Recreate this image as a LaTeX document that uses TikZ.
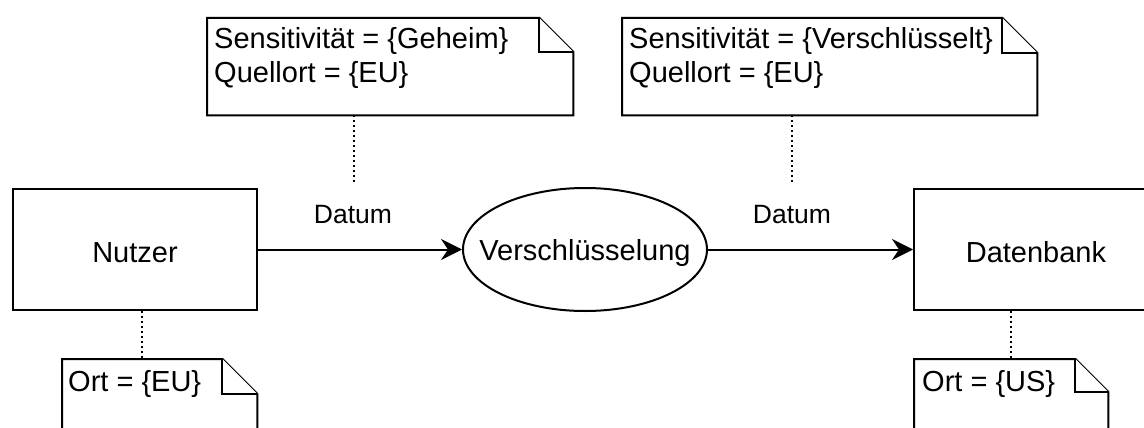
\documentclass[tikz,border=0pt]{standalone}
\usepackage{fontspec}
\setmainfont{Liberation Sans}
\usetikzlibrary{shapes.geometric,arrows.meta}

% outline of a note with a folded top-right corner
\newcommand\drawnote[2]{%
  \draw[noteline] (#1.north west) -- ([xshift=-#2]#1.north east)
    -- ([yshift=-#2]#1.north east) -- (#1.south east) -- (#1.south west) -- cycle;
  \draw[noteline] ([xshift=-#2]#1.north east) |- ([yshift=-#2]#1.north east);}

\begin{document}
\begin{tikzpicture}[x=1pt,y=-1pt,
  mainfont/.style={font=\fontsize{29}{34}\selectfont},
  block/.style={draw, line width=2pt, fill=white, minimum width=244pt,
    minimum height=121pt, inner sep=0pt},
  process/.style={ellipse, draw, line width=2pt, fill=white,
    minimum width=244pt, minimum height=123pt, inner sep=0pt},
  boxtext/.style={mainfont, inner sep=0pt, text height=26pt, text depth=0pt},
  notearea/.style 2 args={anchor=north west, inner sep=0pt,
    minimum width=#1, minimum height=#2},
  noteline/.style={line width=2pt, fill=white, line join=miter},
  notetext/.style={mainfont, anchor=north west, inner sep=0pt, align=left},
  flowlabel/.style={font=\fontsize{26.5}{30}\selectfont, inner sep=0pt},
  flow/.style={line width=2pt, -{Stealth[length=21pt,width=21pt,inset=7pt]}},
  link/.style={line width=1.6pt, dash pattern=on 1.6pt off 3.4pt}]

\useasboundingbox (0,0) rectangle (1144,428);
\clip (0,0) rectangle (1144,428);

% main elements
\node[block] (nutzer) at (135,249.5) {};
\node[boxtext] (nutzertext) at (nutzer.center) {Nutzer};
\node[process] (crypt) at (585,249.5) {};
\node[boxtext, text depth=4pt] (crypttext) at (crypt.center) {Verschlüsselung};
\node[block] (datenbank) at (1036,249.5) {};
\node[boxtext] (datenbanktext) at (datenbank.center) {Datenbank};

% data flows
\draw[flow] (nutzer.east) -- (crypt.west);
\draw[flow] (crypt.east) -- (datenbank.west);
\node[flowlabel] (datum1) at (353,215) {Datum};
\node[flowlabel] (datum2) at (792,215) {Datum};

% annotation notes
\node[notearea={366pt}{97pt}] (geheim) at (207,18) {};
\drawnote{geheim}{34pt}
\node[notetext] (geheimtext) at ([xshift=7pt,yshift=-9pt]geheim.north west)
  {Sensitivität = \{Geheim\}\\Quellort = \{EU\}};

\node[notearea={415pt}{97pt}] (versch) at (622,18) {};
\drawnote{versch}{35pt}
\node[notetext] (verschtext) at ([xshift=7pt,yshift=-9pt]versch.north west)
  {Sensitivität = \{Verschlüsselt\}\\Quellort = \{EU\}};

\node[notearea={195pt}{90pt}] (orteu) at (62,359) {};
\drawnote{orteu}{35pt}
\node[notetext] (orteutext) at ([xshift=6pt,yshift=-11pt]orteu.north west)
  {Ort = \{EU\}};

\node[notearea={194pt}{90pt}] (ortus) at (914,359) {};
\drawnote{ortus}{33pt}
\node[notetext] (ortustext) at ([xshift=8pt,yshift=-11pt]ortus.north west)
  {Ort = \{US\}};

% dotted attachments
\coordinate (datum1top) at (354,183);
\coordinate (datum2top) at (792,183);
\draw[link] (geheim.south -| datum1top) -- (datum1top);
\draw[link] (versch.south -| datum2top) -- (datum2top);
\draw[link] ([xshift=7pt]nutzer.south) -- ([xshift=7pt]nutzer.south |- orteu.north);
\draw[link] (datenbank.south -| ortus.north) -- (ortus.north);
\end{tikzpicture}
\end{document}
